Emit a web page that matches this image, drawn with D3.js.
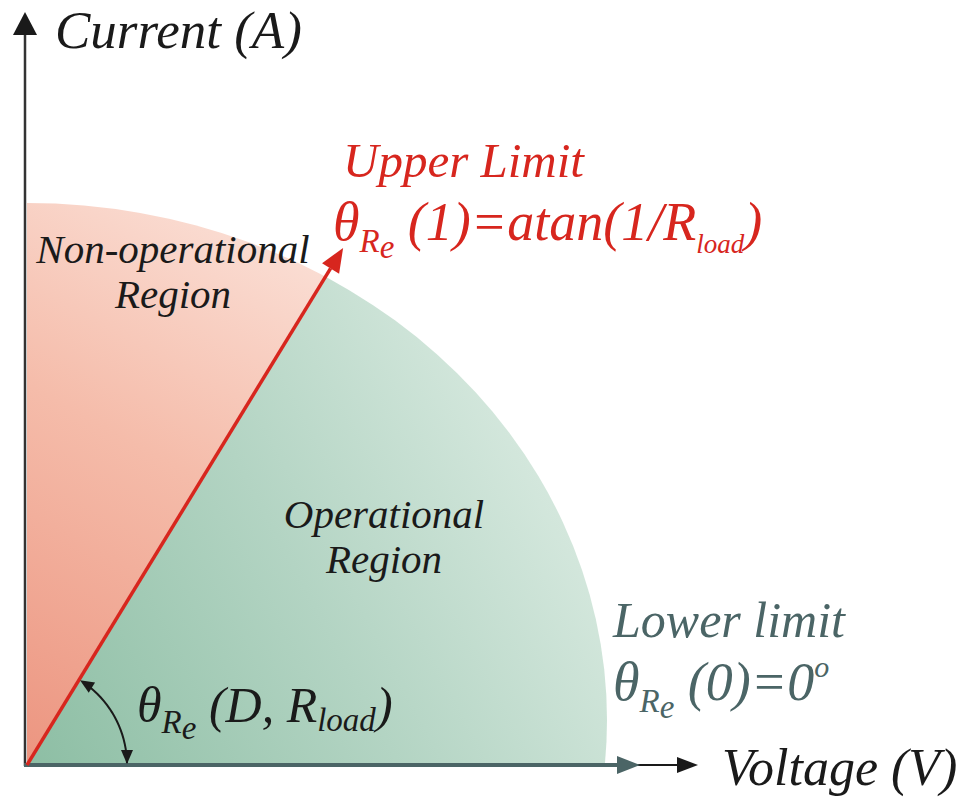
<!DOCTYPE html>
<html>
<head>
<meta charset="utf-8">
<script src="https://cdn.jsdelivr.net/npm/d3@7"></script>
<style> body { margin: 0; background: #fff; } svg { display: block; } </style>
</head>
<body>
<div id="chart"></div>
<script>
// normalised operating plane: voltage on x, current on y
var axisTitles = ["Voltage (V)", "Current (A)"];
var xDomain = [0, 1];
var yDomain = [0, 1];
// power limit boundary (ellipse in V-I plane): centre and radii
var boundaryCentre = [0, 0.08];
var boundaryRadii = [1, 0.92];
// upper limit arrow tip (V, I)
var upperLimitTip = [0.545, 0.92];
var regionNames = [["Non-operational", "Region"], ["Operational", "Region"]];
var limitTitles = ["Upper Limit", "Lower limit"];

var width = 973, height = 801;
var red = "#d7261e", slate = "#4b6566", ink = "#1a1a1a";

var svg = d3.select("#chart").append("svg")
  .attr("width", width)
  .attr("height", height);

var x = d3.scaleLinear().domain(xDomain).range([27, 607]);
var y = d3.scaleLinear().domain(yDomain).range([765, 203]);

// labels layer first, raised above the shapes at the end
var labels = svg.append("g").attr("class", "labels");

function rich(px, py, size, color, parts, anchor) {
  var t = labels.append("text")
    .attr("x", px).attr("y", py)
    .style("font-family", "'Liberation Serif'")
    .style("font-style", "italic")
    .style("font-size", size + "px")
    .style("white-space", "pre")
    .attr("fill", color)
    .attr("text-anchor", anchor || "start");
  var cur = 0;
  parts.forEach(function (p) {
    var off = p.off || 0;
    t.append("tspan")
      .attr("dy", (off - cur) * size)
      .style("font-size", Math.round((p.s || 1) * size) + "px")
      .text(p.t);
    cur = off;
  });
  return t;
}

function thetaRe(s) {
  return [{t: "θ"}, {t: "R", s: s, off: 0.22}, {t: "e", s: s, off: 0.34}];
}

rich(55, 48, 53, ink, [{t: axisTitles[1]}]);
rich(722, 785, 52, ink, [{t: axisTitles[0]}]);
rich(343, 177, 49, red, [{t: limitTitles[0]}]);
rich(333, 240, 54, red, thetaRe(0.62).concat([{t: " (1)=atan(1/R"}, {t: "load", s: 0.5, off: 0.24}, {t: ")"}]));
rich(613, 637, 50, slate, [{t: limitTitles[1]}]);
rich(613, 700, 54, slate, thetaRe(0.62).concat([{t: " (0)=0"}, {t: "o", s: 0.55, off: -0.42}]));
rich(173, 263, 41, ink, [{t: regionNames[0][0]}], "middle");
rich(173, 308, 41, ink, [{t: regionNames[0][1]}], "middle");
rich(384, 528, 41, ink, [{t: regionNames[1][0]}], "middle");
rich(384, 573, 41, ink, [{t: regionNames[1][1]}], "middle");
rich(137, 722, 50, ink, thetaRe(0.66).concat([{t: " (D, R"}, {t: "load", s: 0.66, off: 0.18}, {t: ")"}]));

var defs = svg.append("defs");

var pinkGrad = defs.append("linearGradient")
  .attr("id", "pinkGrad")
  .attr("gradientUnits", "userSpaceOnUse")
  .attr("x1", x(0)).attr("y1", y(0))
  .attr("x2", x(0.5)).attr("y2", y(0.95));
pinkGrad.append("stop").attr("offset", 0).attr("stop-color", "#ec9580");
pinkGrad.append("stop").attr("offset", 0.55).attr("stop-color", "#f5bcaa");
pinkGrad.append("stop").attr("offset", 1).attr("stop-color", "#fbe1d8");

var greenGrad = defs.append("linearGradient")
  .attr("id", "greenGrad")
  .attr("gradientUnits", "userSpaceOnUse")
  .attr("x1", x(0)).attr("y1", y(0))
  .attr("x2", x(1)).attr("y2", y(0.55));
greenGrad.append("stop").attr("offset", 0).attr("stop-color", "#8dbea4");
greenGrad.append("stop").attr("offset", 0.5).attr("stop-color", "#b3d4c3");
greenGrad.append("stop").attr("offset", 1).attr("stop-color", "#dcece3");

// clip each region by the upper limit line
var ext = 3;
var tipDir = [upperLimitTip[0] * ext, upperLimitTip[1] * ext];

defs.append("clipPath").attr("id", "clipPink")
  .append("path")
  .attr("d", d3.line()([
    [x(0), y(0)], [x(0), y(1.5)], [x(tipDir[0]), y(tipDir[1])]
  ]) + "Z");

defs.append("clipPath").attr("id", "clipGreen")
  .append("path")
  .attr("d", d3.line()([
    [x(0), y(0)], [x(tipDir[0]), y(tipDir[1])], [x(1.5), y(1.5)], [x(1.5), y(0)]
  ]) + "Z");

function boundary(g, fill, clip) {
  g.append("g").attr("clip-path", "url(#" + clip + ")")
    .append("ellipse")
    .attr("cx", x(boundaryCentre[0]))
    .attr("cy", y(boundaryCentre[1]))
    .attr("rx", x(boundaryRadii[0]) - x(0))
    .attr("ry", y(0) - y(boundaryRadii[1]))
    .attr("fill", fill);
}

// keep regions in the first quadrant
defs.append("clipPath").attr("id", "clipQuad")
  .append("rect")
  .attr("x", x(0)).attr("y", 0)
  .attr("width", width).attr("height", y(0));

var regions = svg.append("g").attr("clip-path", "url(#clipQuad)");
boundary(regions, "url(#pinkGrad)", "clipPink");
boundary(regions, "url(#greenGrad)", "clipGreen");

// axes
svg.append("line")
  .attr("x1", x(0) - 2).attr("y1", y(0) + 1)
  .attr("x2", x(0) - 2).attr("y2", 34)
  .attr("stroke", "#333").attr("stroke-width", 2.5);
svg.append("path")
  .attr("d", "M" + (x(0) - 14) + ",35L" + (x(0) + 10) + ",35L" + (x(0) - 2) + ",12Z")
  .attr("fill", ink);

svg.append("line")
  .attr("x1", 636).attr("y1", y(0))
  .attr("x2", 680).attr("y2", y(0))
  .attr("stroke", ink).attr("stroke-width", 2);
svg.append("path")
  .attr("d", "M677," + (y(0) - 8) + "L698," + y(0) + "L677," + (y(0) + 8) + "Z")
  .attr("fill", ink);

svg.append("line")
  .attr("x1", x(0) - 3).attr("y1", y(0))
  .attr("x2", 620).attr("y2", y(0))
  .attr("stroke", slate).attr("stroke-width", 4);
svg.append("path")
  .attr("d", "M617," + (y(0) - 9) + "L640," + y(0) + "L617," + (y(0) + 9) + "Z")
  .attr("fill", slate);

// upper limit arrow
var tx = x(upperLimitTip[0]), ty = y(upperLimitTip[1]);
var ang = Math.atan2(ty - y(0), tx - x(0));
var headLen = 24, headW = 10;
var bx = tx - headLen * Math.cos(ang), by = ty - headLen * Math.sin(ang);
svg.append("line")
  .attr("x1", x(0)).attr("y1", y(0))
  .attr("x2", bx).attr("y2", by)
  .attr("stroke", red).attr("stroke-width", 3.5);
svg.append("path")
  .attr("d", d3.line()([
    [tx, ty],
    [bx + headW * Math.sin(ang), by - headW * Math.cos(ang)],
    [bx - headW * Math.sin(ang), by + headW * Math.cos(ang)]
  ]) + "Z")
  .attr("fill", red);

// angle marker between the two limits
var arcR = 100;
var a0 = -ang; // radians above the V axis
var aTop = a0 * 0.96, aBot = 0.02;
var arcPts = d3.range(0, 21).map(function (i) {
  var a = aTop - (aTop - aBot) * i / 20;
  return [x(0) + arcR * Math.cos(a), y(0) - arcR * Math.sin(a)];
});
svg.append("path")
  .attr("d", d3.line()(arcPts))
  .attr("fill", "none").attr("stroke", ink).attr("stroke-width", 2);

function arrowHead(p, dir) {
  var l = 14, w = 6;
  var ux = Math.cos(dir), uy = Math.sin(dir);
  var b = [p[0] - l * ux, p[1] - l * uy];
  svg.append("path")
    .attr("d", d3.line()([p, [b[0] - w * uy, b[1] + w * ux], [b[0] + w * uy, b[1] - w * ux]]) + "Z")
    .attr("fill", ink);
}
var aTip = a0 * 0.99;
arrowHead([x(0) + arcR * Math.cos(aTip), y(0) - arcR * Math.sin(aTip)],
  Math.atan2(-Math.cos(aTip), -Math.sin(aTip)));
arrowHead([x(0) + arcR, y(0) - 1], Math.PI / 2);

labels.raise();
</script>
</body>
</html>
